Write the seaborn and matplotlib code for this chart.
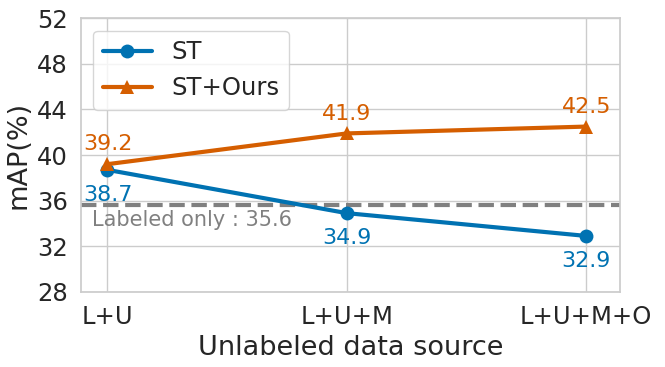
import matplotlib
matplotlib.use("Agg")
import matplotlib.pyplot as plt
import pandas as pd
import seaborn as sns

sources = ["L+U", "L+U+M", "L+U+M+O"]
st_map = [38.7, 34.9, 32.9]
ours_map = [39.2, 41.9, 42.5]
labeled_only = 35.6
y_ticks = [28, 32, 36, 40, 44, 48, 52]

BLUE = "#0072B2"
ORANGE = "#D55E00"

sns.set_theme(style="whitegrid")
plt.rcParams["font.family"] = ["DejaVu Sans"]

df = pd.DataFrame({
    "source": sources * 2,
    "pos": list(range(len(sources))) * 2,
    "mAP": st_map + ours_map,
    "method": ["ST"] * 3 + ["ST+Ours"] * 3,
})

fig, ax = plt.subplots(figsize=(6.65, 3.67), dpi=100)
sns.lineplot(data=df, x="pos", y="mAP", hue="method", style="method",
             markers={"ST": "o", "ST+Ours": "^"}, dashes=False,
             palette={"ST": BLUE, "ST+Ours": ORANGE},
             linewidth=3, markersize=10, markeredgewidth=0, ax=ax)

ax.axhline(labeled_only, color="gray", linestyle="--", linewidth=3, zorder=1)
ax.text(-0.065, labeled_only - 0.45, f"Labeled only : {labeled_only}",
        color="gray", fontsize=15, va="top", ha="left")

for i, v in enumerate(st_map):
    ax.annotate(f"{v}", (i, v), xytext=(0, -11), textcoords="offset points",
                ha="center", va="top", color=BLUE, fontsize=16)
for i, v in enumerate(ours_map):
    ax.annotate(f"{v}", (i, v), xytext=(0, 7), textcoords="offset points",
                ha="center", va="bottom", color=ORANGE, fontsize=16)

ax.set_xticks(range(len(sources)))
ax.set_xticklabels(sources, fontsize=17.5)
ax.set_yticks(y_ticks)
ax.tick_params(axis="y", labelsize=17.5)
ax.set_xlim(-0.11, 2.14)
ax.set_ylim(28, 52)
ax.set_xlabel("Unlabeled data source", fontsize=19.5)
ax.set_ylabel("mAP(%)", fontsize=19.5)

handles, labels = ax.get_legend_handles_labels()
ax.legend(handles=handles, labels=labels, loc="upper left", fontsize=17.5,
          handlelength=2.0, frameon=True)

fig.subplots_adjust(left=0.122, right=0.932, top=0.95, bottom=0.205)
fig.savefig("out.png", dpi=100)
